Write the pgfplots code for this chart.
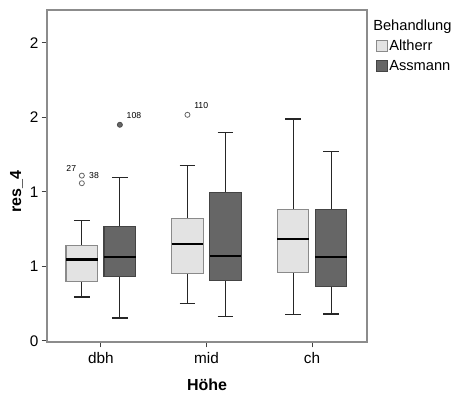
\documentclass[border=0pt]{standalone}
\usepackage{fontspec}
\setmainfont{Liberation Sans}
\usepackage{pgfplots}
\pgfplotsset{compat=1.18}
\usepgfplotslibrary{statistics}
\definecolor{lightbox}{HTML}{E3E3E3}
\definecolor{darkbox}{HTML}{666666}
\definecolor{lightedge}{HTML}{8A8A8A}
\definecolor{darkedge}{HTML}{444444}
\definecolor{framegray}{HTML}{8C8C8C}
\begin{document}
\begin{tikzpicture}[x=1pt,y=1pt]
\begin{axis}[
  at={(0,0)}, anchor=south west,
  scale only axis, width=240pt, height=249pt,
  xmin=-0.51, xmax=2.52, ymin=-0.007, ymax=2.22,
  xtick={0,1,2}, xticklabels={dbh,mid,ch},
  ytick={0,0.5,1,1.5,2}, yticklabels={0,1,1,2,2},
  tick align=outside, xtick pos=bottom, ytick pos=left,
  major tick length=4pt,
  axis line style={framegray, line width=0.9pt},
  tick style={black!75, line width=0.7pt},
  ticklabel style={font=\fontsize{11.5}{13}\selectfont},
  yticklabel style={xshift=1pt},
  xlabel={Höhe}, ylabel={res\_4},
  label style={font=\fontsize{12}{14}\selectfont\bfseries},
  ylabel style={at={(axis description cs:-0.095,0.452)}, anchor=center},
  xlabel style={at={(axis description cs:0.5,-0.1295)}, anchor=center},
  boxplot/draw direction=y,
  boxplot/box extend=0.3, boxplot/whisker extend=0.15,
  boxplot/every whisker/.style={black!85, line width=0.8pt},
  boxplot/every median/.style={black, line width=1.6pt},
  clip=false,
]
% dbh
\addplot[boxplot prepared={draw position=-0.18, lower whisker=0.295, lower quartile=0.398, median=0.546, upper quartile=0.642, upper whisker=0.807},
  boxplot/every box/.style={draw=lightedge, fill=lightbox, line width=0.8pt}] coordinates {};
\addplot[boxplot prepared={draw position=0.18, lower whisker=0.154, lower quartile=0.434, median=0.564, upper quartile=0.770, upper whisker=1.096},
  boxplot/every box/.style={draw=darkedge, fill=darkbox, line width=0.8pt}] coordinates {};
% mid
\addplot[boxplot prepared={draw position=0.82, lower whisker=0.250, lower quartile=0.454, median=0.649, upper quartile=0.823, upper whisker=1.174},
  boxplot/every box/.style={draw=lightedge, fill=lightbox, line width=0.8pt}] coordinates {};
\addplot[boxplot prepared={draw position=1.18, lower whisker=0.163, lower quartile=0.407, median=0.570, upper quartile=0.998, upper whisker=1.398},
  boxplot/every box/.style={draw=darkedge, fill=darkbox, line width=0.8pt}] coordinates {};
% ch
\addplot[boxplot prepared={draw position=1.82, lower whisker=0.177, lower quartile=0.458, median=0.685, upper quartile=0.879, upper whisker=1.489},
  boxplot/every box/.style={draw=lightedge, fill=lightbox, line width=0.8pt}] coordinates {};
\addplot[boxplot prepared={draw position=2.18, lower whisker=0.181, lower quartile=0.365, median=0.564, upper quartile=0.884, upper whisker=1.268},
  boxplot/every box/.style={draw=darkedge, fill=darkbox, line width=0.8pt}] coordinates {};
% outliers
\addplot[only marks, mark=o, mark size=1.9pt, mark options={draw=black!60, line width=0.6pt}]
  coordinates {(-0.18,1.109) (-0.18,1.058) (0.82,1.517)};
\addplot[only marks, mark=*, mark size=1.9pt, mark options={draw=black!70, fill=darkbox, line width=0.6pt}]
  coordinates {(0.18,1.45)};
\node[font=\fontsize{6.5}{7}\selectfont, anchor=center] at (axis cs:-0.28,1.16) {27};
\node[font=\fontsize{6.5}{7}\selectfont, anchor=west] at (axis cs:-0.155,1.113) {38};
\node[font=\fontsize{6.5}{7}\selectfont, anchor=west] at (axis cs:0.2,1.51) {108};
\node[font=\fontsize{6.5}{7}\selectfont, anchor=west] at (axis cs:0.84,1.58) {110};
\end{axis}
% legend (pixel -> pt: x=(X-47)*0.75, y=(342-Y)*0.75)
\node[anchor=base west, inner sep=0pt, font=\fontsize{11}{13}\selectfont] at (244.5,233.25) {Behandlung};
\draw[lightedge, fill=lightbox, line width=0.6pt] (246.75,218.25) rectangle (255,226.5);
\node[anchor=base west, inner sep=0pt, font=\fontsize{11}{13}\selectfont] at (256.5,218.25) {Altherr};
\draw[darkedge, fill=darkbox, line width=0.6pt] (246.75,203.25) rectangle (255,211.5);
\node[anchor=base west, inner sep=0pt, font=\fontsize{11}{13}\selectfont] at (256.5,203.25) {Assmann};
\pgfresetboundingbox
\path[use as bounding box] (-35.25,-42.75) rectangle (309.75,256.5);
\end{tikzpicture}
\end{document}
